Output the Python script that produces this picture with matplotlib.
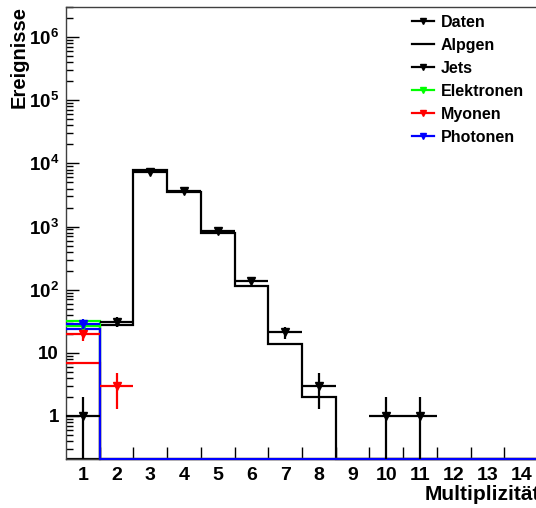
"""
Jet/lepton multiplicity: data vs. Alpgen, log scale, ROOT-like look.
Writes out.png (536x508).
"""
import numpy as np
import matplotlib
matplotlib.use("Agg")
import matplotlib.pyplot as plt
from matplotlib.lines import Line2D
from matplotlib.ticker import FixedLocator, FuncFormatter, NullFormatter

plt.rcParams["font.family"] = ["Liberation Sans", "DejaVu Sans"]
plt.rcParams["font.weight"] = "bold"
plt.rcParams["mathtext.fontset"] = "custom"
plt.rcParams["mathtext.rm"] = "Liberation Sans:bold"
plt.rcParams["mathtext.it"] = "Liberation Sans:bold"
plt.rcParams["mathtext.bf"] = "Liberation Sans:bold"

# --------------------------------------------------------------------------- #
# Data
# --------------------------------------------------------------------------- #
bin_labels = [str(i) for i in range(1, 16)]

alpgen = [0, 28, 7800, 3500, 800, 115, 14, 2, 0, 0, 0, 0, 0, 0, 0]
elektronen_mc = [32, 0, 0, 0, 0, 0, 0, 0, 0, 0, 0, 0, 0, 0, 0]
myonen_mc = [7, 0, 0, 0, 0, 0, 0, 0, 0, 0, 0, 0, 0, 0, 0]
photonen_mc = [24, 0, 0, 0, 0, 0, 0, 0, 0, 0, 0, 0, 0, 0, 0]

daten = [1, 31, 7400, 3600, 850, 135, 21, 3, 0, 1, 1, 0, 0, 0, 0]
elektronen = [27, 0, 0, 0, 0, 0, 0, 0, 0, 0, 0, 0, 0, 0, 0]
myonen = [20, 3, 0, 0, 0, 0, 0, 0, 0, 0, 0, 0, 0, 0, 0]
photonen = [29, 0, 0, 0, 0, 0, 0, 0, 0, 0, 0, 0, 0, 0, 0]

YMIN, YMAX = 0.208, 3.0e6
XMIN, XMAX = 0.5, 14.44

# --------------------------------------------------------------------------- #
# Plot
# --------------------------------------------------------------------------- #
centers = np.arange(1, len(bin_labels) + 1)
edges = np.arange(0.5, len(bin_labels) + 1, 1.0)

fig = plt.figure(figsize=(5.36, 5.08), dpi=100)
ax = fig.add_axes([66 / 536, 49 / 508, 1 - 66 / 536, 452 / 508])


def draw_hist(vals, color, z):
    v = np.asarray(vals, dtype=float)
    v = np.where(v > 0, v, YMIN)          # empty bins sit on the frame, like ROOT
    ax.stairs(v, edges, baseline=None, color=color, lw=1.6, zorder=z,
              clip_on=False)


def draw_points(vals, color, z):
    v = np.asarray(vals, dtype=float)
    m = v > 0
    err = np.sqrt(v[m])
    lo = np.minimum(err, v[m] - YMIN * 0.999)
    ax.errorbar(centers[m], v[m], yerr=[lo, err], xerr=0.5, fmt="v",
                color=color, ms=6, lw=1.6, capsize=0, zorder=z)


draw_hist(alpgen, "black", 2)
draw_hist(elektronen_mc, "#00ff00", 3)
draw_hist(myonen_mc, "red", 3)
draw_hist(photonen_mc, "blue", 4)

draw_points(daten, "black", 5)
draw_points(elektronen, "#00ff00", 5)
draw_points(myonen, "red", 5)
draw_points(photonen, "blue", 6)

ax.set_yscale("log")
ax.set_ylim(YMIN, YMAX)
ax.set_xlim(XMIN, XMAX)

# x: ticks on bin edges, labels on bin centres
ax.xaxis.set_major_locator(FixedLocator(edges[1:]))
ax.xaxis.set_major_formatter(NullFormatter())
ax.xaxis.set_minor_locator(FixedLocator(centers))
ax.xaxis.set_minor_formatter(FuncFormatter(lambda x, p: bin_labels[int(round(x)) - 1]))
ax.tick_params(axis="x", which="major", direction="in", length=8.5, width=1,
               top=False)
ax.tick_params(axis="x", which="minor", length=0, pad=6, labelsize=14)


def ylab(y, pos):
    n = int(round(np.log10(y)))
    if n == 0:
        return "1"
    if n == 1:
        return "10"
    return r"$10^{%d}$" % n


ax.yaxis.set_major_locator(FixedLocator([10.0 ** k for k in range(0, 7)]))
ax.yaxis.set_major_formatter(FuncFormatter(ylab))
ax.yaxis.set_minor_locator(FixedLocator(
    [m * 10.0 ** k for k in range(-1, 7) for m in range(2, 10)]))
ax.yaxis.set_minor_formatter(NullFormatter())
ax.tick_params(axis="y", which="major", direction="in", length=9.5, width=1,
               labelsize=13.5, pad=5, right=False)
ax.tick_params(axis="y", which="minor", direction="in", length=5, width=1,
               right=False)

ax.spines["right"].set_visible(False)
for s in ("left", "top", "bottom"):
    ax.spines[s].set_color("#404040")
    ax.spines[s].set_linewidth(1)

fig.text(19 / 536, 1 - 6 / 508, "Ereignisse", rotation=90, ha="center",
         va="top", fontsize=14.5, fontweight="bold")
fig.text(425 / 536, 1 - 494 / 508, "Multiplizität", ha="left", va="center",
         fontsize=15, fontweight="bold")

handles = [
    Line2D([], [], color="black", marker="v", ms=5, lw=1.6),
    Line2D([], [], color="black", lw=1.6),
    Line2D([], [], color="black", marker="v", ms=5, lw=1.6),
    Line2D([], [], color="#00ff00", marker="v", ms=5, lw=1.6),
    Line2D([], [], color="red", marker="v", ms=5, lw=1.6),
    Line2D([], [], color="blue", marker="v", ms=5, lw=1.6),
]
names = ["Daten", "Alpgen", "Jets", "Elektronen", "Myonen", "Photonen"]
fig.legend(handles, names, loc="upper left",
           bbox_to_anchor=(412 / 536, 1 - 15 / 508), frameon=False,
           borderpad=0, borderaxespad=0, handlelength=1.35, handletextpad=0.45,
           labelspacing=0.5, prop={"size": 11.5, "weight": "bold"})

fig.savefig("out.png", dpi=100)
plt.close(fig)
